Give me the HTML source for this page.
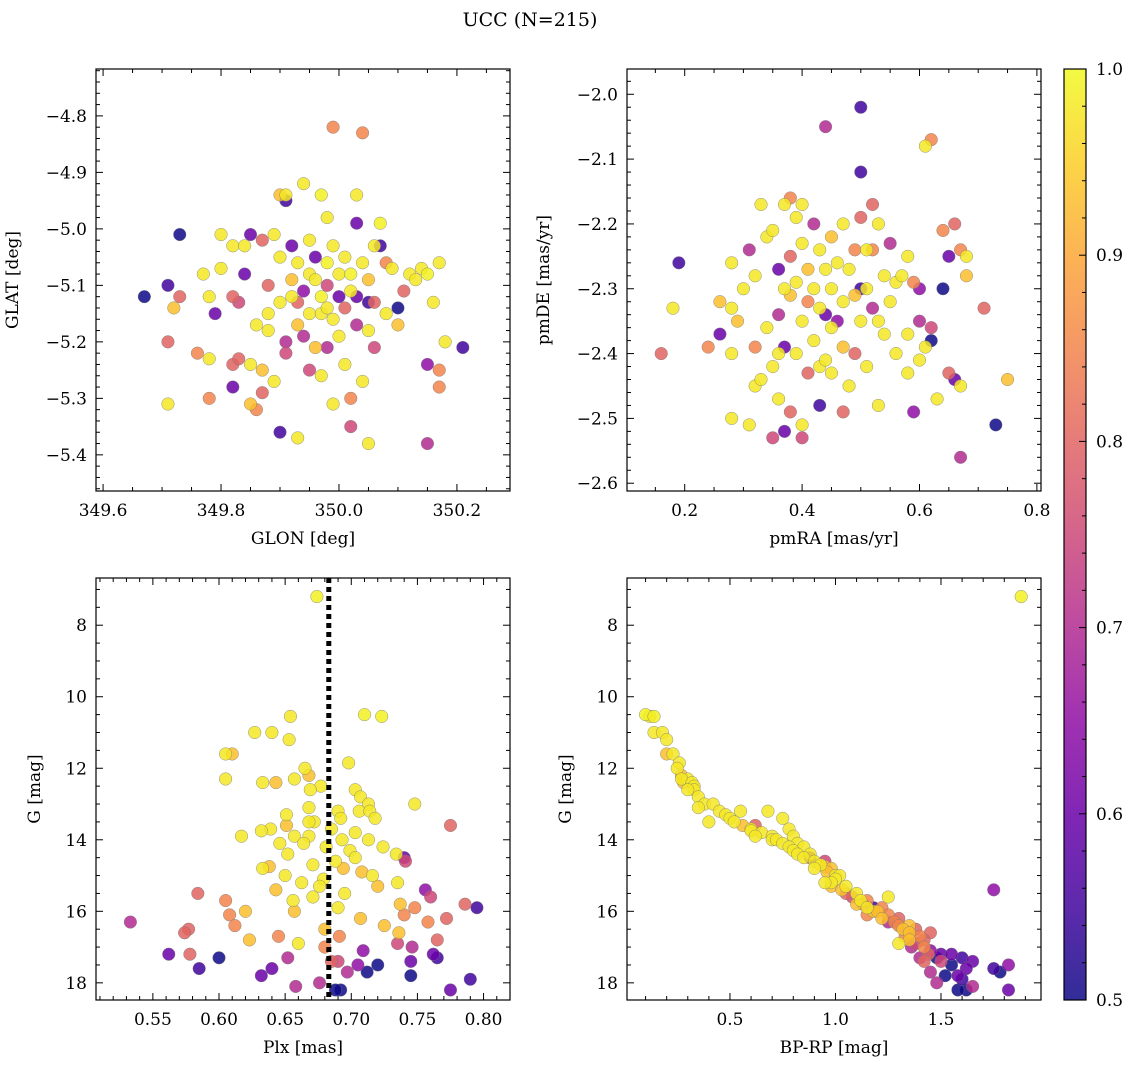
<!DOCTYPE html>
<html><head><meta charset="utf-8"><style>
html,body{margin:0;padding:0;background:#fff;}
svg{display:block;font-family:"DejaVu Serif","Liberation Serif",serif;}
</style></head><body>
<svg id="fig" width="1136" height="1068" viewBox="0 0 1136 1068" xmlns="http://www.w3.org/2000/svg">
<text x="530" y="26" font-size="19" text-anchor="middle">UCC (N=215)</text>
</svg>
<script>
// Panel 1: GLON / GLAT
const glon=[349.67,349.71,349.72,349.73,349.71,349.71,349.73,349.77,349.78,349.79,349.78,349.76,349.78,349.80,349.80,349.82,349.82,349.83,349.82,349.82,349.83,349.84,349.84,349.85,349.85,349.85,349.86,349.86,349.87,349.87,349.87,349.88,349.88,349.89,349.88,349.89,349.90,349.91,349.91,349.90,349.90,349.91,349.91,349.90,349.92,349.92,349.93,349.93,349.93,349.93,349.94,349.94,349.94,349.95,349.95,349.95,349.95,349.96,349.96,349.97,349.97,349.97,349.98,349.98,349.98,349.98,349.99,349.99,349.99,349.99,350.00,350.00,350.00,350.01,350.01,350.01,350.02,350.02,350.02,350.03,350.03,350.03,350.03,350.04,350.04,350.04,350.05,350.05,350.05,350.05,350.06,350.06,350.06,350.07,350.07,350.08,350.08,350.09,350.10,350.10,350.11,350.12,350.13,350.14,350.15,350.15,350.15,350.16,350.17,350.17,350.17,350.18,350.21,349.97,349.96,349.98,349.92,350.02];
const glat=[-5.12,-5.10,-5.14,-5.12,-5.20,-5.31,-5.01,-5.08,-5.12,-5.15,-5.23,-5.22,-5.30,-5.07,-5.01,-5.03,-5.12,-5.13,-5.28,-5.24,-5.23,-5.03,-5.08,-5.01,-5.24,-5.31,-5.32,-5.17,-5.25,-5.29,-5.02,-5.10,-5.18,-5.01,-5.15,-5.27,-4.94,-4.94,-4.95,-5.05,-5.13,-5.20,-5.22,-5.36,-5.03,-5.09,-5.06,-5.13,-5.17,-5.37,-4.92,-5.11,-5.19,-5.02,-5.08,-5.15,-5.25,-5.21,-5.05,-4.94,-5.12,-5.26,-4.98,-5.06,-5.10,-5.21,-4.82,-5.03,-5.16,-5.31,-5.08,-5.19,-5.12,-5.05,-5.14,-5.24,-5.08,-5.30,-5.35,-4.94,-4.99,-5.12,-5.17,-4.83,-5.06,-5.27,-5.09,-5.13,-5.18,-5.38,-5.03,-5.13,-5.21,-4.99,-5.03,-5.06,-5.15,-5.07,-5.17,-5.14,-5.11,-5.08,-5.09,-5.07,-5.08,-5.24,-5.38,-5.13,-5.06,-5.25,-5.28,-5.20,-5.21,-5.15,-5.09,-5.14,-5.12,-5.11];
const prob1=[0.5,0.55,0.93,0.8,0.8,0.98,0.5,0.98,0.98,0.6,0.98,0.85,0.85,0.98,0.98,0.98,0.8,0.75,0.6,0.8,0.8,0.98,0.6,0.6,0.98,0.93,0.85,0.98,0.93,0.8,0.8,0.8,0.98,0.98,0.98,0.98,0.93,0.98,0.55,0.98,0.98,0.7,0.75,0.55,0.6,0.93,0.98,0.8,0.93,0.98,0.98,0.65,0.7,0.98,0.98,0.98,0.75,0.93,0.6,0.99,0.99,0.98,0.98,0.99,0.75,0.7,0.85,0.98,0.98,0.98,0.98,0.98,0.6,0.98,0.8,0.98,0.99,0.85,0.75,0.98,0.6,0.6,0.7,0.85,0.98,0.98,0.93,0.55,0.98,0.98,0.98,0.8,0.75,0.99,0.55,0.85,0.98,0.98,0.93,0.5,0.8,0.98,0.98,0.98,0.99,0.65,0.7,0.98,0.98,0.85,0.85,0.98,0.55,0.98,0.98,0.98,0.98,0.98];
// Panel 2: pmRA / pmDE
const pmra=[0.44,0.50,0.50,0.62,0.61,0.16,0.19,0.18,0.24,0.26,0.26,0.28,0.28,0.28,0.28,0.29,0.30,0.31,0.31,0.32,0.32,0.32,0.33,0.33,0.34,0.34,0.35,0.35,0.35,0.36,0.36,0.36,0.36,0.37,0.37,0.37,0.37,0.38,0.38,0.38,0.38,0.39,0.39,0.39,0.40,0.40,0.40,0.40,0.40,0.41,0.41,0.41,0.42,0.42,0.42,0.43,0.43,0.43,0.43,0.44,0.44,0.44,0.45,0.45,0.45,0.45,0.46,0.46,0.47,0.47,0.47,0.47,0.48,0.48,0.49,0.49,0.49,0.50,0.50,0.50,0.51,0.51,0.51,0.52,0.52,0.52,0.53,0.53,0.53,0.54,0.54,0.55,0.55,0.56,0.56,0.57,0.58,0.58,0.58,0.59,0.59,0.60,0.60,0.60,0.61,0.62,0.62,0.63,0.64,0.64,0.65,0.65,0.66,0.66,0.67,0.67,0.67,0.68,0.68,0.71,0.73,0.75];
const pmde=[-2.05,-2.02,-2.12,-2.07,-2.08,-2.40,-2.26,-2.33,-2.39,-2.32,-2.37,-2.26,-2.33,-2.40,-2.50,-2.35,-2.30,-2.24,-2.51,-2.28,-2.39,-2.45,-2.17,-2.44,-2.22,-2.36,-2.21,-2.42,-2.53,-2.27,-2.34,-2.40,-2.47,-2.17,-2.30,-2.39,-2.52,-2.16,-2.25,-2.31,-2.49,-2.19,-2.29,-2.40,-2.17,-2.23,-2.35,-2.51,-2.53,-2.27,-2.32,-2.43,-2.20,-2.30,-2.38,-2.24,-2.33,-2.42,-2.48,-2.27,-2.34,-2.41,-2.22,-2.30,-2.36,-2.43,-2.26,-2.35,-2.20,-2.32,-2.39,-2.49,-2.27,-2.45,-2.24,-2.31,-2.40,-2.19,-2.30,-2.35,-2.24,-2.30,-2.42,-2.17,-2.24,-2.33,-2.20,-2.35,-2.48,-2.28,-2.37,-2.23,-2.32,-2.29,-2.40,-2.28,-2.25,-2.37,-2.43,-2.29,-2.49,-2.30,-2.35,-2.41,-2.39,-2.36,-2.38,-2.47,-2.21,-2.30,-2.25,-2.43,-2.20,-2.44,-2.56,-2.45,-2.24,-2.25,-2.28,-2.33,-2.51,-2.44];
const prob2=[0.7,0.55,0.55,0.85,0.98,0.8,0.55,0.98,0.85,0.93,0.6,0.98,0.98,0.98,0.98,0.93,0.98,0.7,0.98,0.98,0.85,0.98,0.98,0.98,0.98,0.98,0.98,0.98,0.75,0.6,0.7,0.98,0.98,0.98,0.98,0.6,0.6,0.85,0.8,0.93,0.8,0.98,0.98,0.98,0.98,0.98,0.98,0.98,0.75,0.93,0.85,0.8,0.7,0.98,0.98,0.98,0.98,0.98,0.55,0.98,0.6,0.98,0.93,0.98,0.98,0.98,0.98,0.65,0.98,0.98,0.93,0.8,0.98,0.98,0.85,0.93,0.8,0.8,0.55,0.98,0.98,0.98,0.98,0.8,0.85,0.7,0.98,0.98,0.98,0.98,0.98,0.7,0.98,0.98,0.98,0.98,0.98,0.98,0.98,0.85,0.65,0.65,0.7,0.98,0.98,0.75,0.5,0.98,0.85,0.5,0.6,0.8,0.8,0.6,0.7,0.98,0.85,0.98,0.93,0.8,0.5,0.93];
// Panels 3 & 4: G, Plx, BP-RP
const gmag=[7.2,10.5,10.55,10.55,11.0,11.0,11.2,11.6,11.6,11.85,12.0,12.2,12.3,12.3,12.4,12.4,12.5,12.6,12.6,12.8,13.0,13.0,13.1,13.2,13.2,13.2,13.3,13.4,13.4,13.5,13.5,13.6,13.6,13.7,13.7,13.75,13.8,13.9,13.9,13.9,14.0,14.0,14.1,14.1,14.2,14.2,14.3,14.4,14.4,14.5,14.5,14.6,14.6,14.7,14.75,14.8,14.8,14.9,15.0,15.0,15.1,15.2,15.3,15.3,15.4,15.4,15.5,15.5,15.6,15.6,15.7,15.7,15.8,15.8,15.9,15.9,15.9,16.0,16.0,16.1,16.1,16.2,16.2,16.3,16.3,16.4,16.4,16.5,16.5,16.6,16.6,16.7,16.7,16.8,16.8,16.9,17.0,17.0,17.1,17.2,17.2,17.2,17.3,17.3,17.3,17.4,17.4,17.5,17.5,17.6,17.6,17.7,17.7,17.8,17.8,17.9,18.0,18.1,18.2,18.2,18.2,17.4,16.9,15.2];
const bprp=[1.88,0.10,0.14,0.12,0.14,0.18,0.20,0.20,0.23,0.26,0.25,0.27,0.30,0.27,0.32,0.28,0.33,0.33,0.30,0.35,0.38,0.42,0.35,0.45,0.55,0.68,0.48,0.5,0.75,0.52,0.40,0.56,0.62,0.78,0.60,0.60,0.65,0.62,0.80,0.70,0.70,0.72,0.82,0.75,0.78,0.85,0.80,0.82,0.88,0.88,0.85,0.90,0.95,0.93,0.95,0.90,0.98,0.96,1.00,1.02,1.00,0.98,1.05,0.98,1.03,1.75,1.05,1.10,1.08,1.25,1.12,1.15,1.10,1.13,1.15,1.18,1.22,1.18,1.20,1.15,1.25,1.22,1.30,1.25,1.28,1.30,1.35,1.38,1.32,1.35,1.45,1.40,1.33,1.35,1.42,1.38,1.42,1.36,1.45,1.50,1.44,1.55,1.40,1.60,1.48,1.50,1.65,1.55,1.82,1.62,1.75,1.45,1.78,1.52,1.58,1.60,1.48,1.65,1.62,1.82,1.58,1.42,1.30,0.95];
const plx=[0.674,0.710,0.723,0.654,0.640,0.627,0.653,0.610,0.605,0.698,0.665,0.668,0.605,0.657,0.633,0.643,0.677,0.669,0.703,0.707,0.713,0.748,0.668,0.706,0.714,0.690,0.651,0.692,0.718,0.672,0.668,0.651,0.775,0.639,0.685,0.632,0.703,0.617,0.668,0.657,0.713,0.693,0.646,0.664,0.724,0.681,0.699,0.734,0.652,0.740,0.703,0.688,0.741,0.671,0.638,0.633,0.694,0.708,0.650,0.716,0.679,0.735,0.676,0.720,0.643,0.756,0.584,0.695,0.760,0.671,0.656,0.605,0.737,0.786,0.690,0.795,0.748,0.657,0.620,0.740,0.608,0.707,0.772,0.533,0.758,0.612,0.725,0.577,0.680,0.736,0.574,0.691,0.645,0.623,0.765,0.735,0.680,0.746,0.709,0.562,0.578,0.762,0.652,0.765,0.600,0.690,0.745,0.720,0.705,0.640,0.585,0.697,0.712,0.745,0.632,0.790,0.676,0.658,0.692,0.775,0.688,0.685,0.660,0.6625];
const prob3=[0.99,0.99,0.99,0.98,0.98,0.98,0.98,0.93,0.98,0.98,0.98,0.93,0.98,0.98,0.98,0.93,0.98,0.98,0.98,0.98,0.98,0.98,0.98,0.98,0.98,0.98,0.98,0.98,0.98,0.98,0.98,0.93,0.8,0.98,0.98,0.98,0.98,0.98,0.98,0.98,0.98,0.98,0.98,0.98,0.98,0.98,0.98,0.98,0.98,0.6,0.98,0.98,0.75,0.98,0.93,0.98,0.93,0.93,0.98,0.98,0.98,0.98,0.98,0.93,0.93,0.65,0.8,0.98,0.75,0.98,0.98,0.85,0.93,0.8,0.98,0.55,0.85,0.93,0.93,0.85,0.85,0.93,0.8,0.7,0.85,0.85,0.93,0.8,0.93,0.93,0.8,0.85,0.85,0.93,0.8,0.75,0.85,0.7,0.65,0.6,0.8,0.6,0.7,0.55,0.5,0.75,0.6,0.5,0.65,0.6,0.55,0.7,0.5,0.5,0.6,0.55,0.7,0.7,0.5,0.6,0.5,0.8,0.98,0.98];
const plxLine=0.683;
const cbTicks=[0.5,0.6,0.7,0.8,0.9,1.0];

const NS='http://www.w3.org/2000/svg';
const svg=document.getElementById('fig');
function el(tag,attrs,parent){const e=document.createElementNS(NS,tag);for(const k in attrs)e.setAttribute(k,attrs[k]);(parent||svg).appendChild(e);return e;}
const stops=[[13,8,135],[65,4,157],[106,0,168],[143,13,164],[177,42,144],[204,71,120],[225,100,98],[242,132,75],[252,166,54],[252,206,37],[240,249,33]];
function plasma(t){t=Math.max(0,Math.min(1,t));const f=t*10,i=Math.min(9,Math.floor(f)),r=f-i;const a=stops[i],b=stops[i+1];return 'rgb('+a.map((v,k)=>Math.round(v+(b[k]-v)*r)).join(',')+')';}
function pcol(p){return plasma((p-0.5)/0.5);}

function panel(o){
  const g=el('g',{});
  
  
  const X=v=>o.x0+(v-o.xmin)/(o.xmax-o.xmin)*(o.x1-o.x0);
  const Y=o.yinv?(v=>o.y0+(v-o.ymin)/(o.ymax-o.ymin)*(o.y1-o.y0)):(v=>o.y1-(v-o.ymin)/(o.ymax-o.ymin)*(o.y1-o.y0));
  const clip='c'+o.name;
  const cp=el('clipPath',{id:clip},g);el('rect',{x:o.x0,y:o.y0,width:o.x1-o.x0,height:o.y1-o.y0},cp);
  const pts=el('g',{'clip-path':'url(#'+clip+')'},g);
  const idx=o.xs.map((_,i)=>i).sort((a,b)=>o.ps[a]-o.ps[b]);
  idx.forEach(i=>{
    const c=el('circle',{cx:X(o.xs[i]),cy:Y(o.ys[i]),r:6.3,fill:pcol(o.ps[i]),'fill-opacity':0.85,stroke:'#777','stroke-width':0.4},pts);
    
    
  });
  if(o.vline!==undefined){
    const l=el('line',{x1:X(o.vline),x2:X(o.vline),y1:o.y0,y2:o.y1,stroke:'#000','stroke-width':5,'stroke-dasharray':'5,4'},pts);
    
    
  }
  const tk=el('g',{stroke:'#000','stroke-width':1},g);
  const eps=1e-9;
  for(let v=Math.ceil(o.xmin/o.xminor-eps)*o.xminor;v<=o.xmax+eps;v+=o.xminor){
    const x=X(v);const major=Math.abs(v/o.xmajor-Math.round(v/o.xmajor))<1e-6;const L=major?7:4;
    el('line',{x1:x,x2:x,y1:o.y1,y2:o.y1-L},tk);el('line',{x1:x,x2:x,y1:o.y0,y2:o.y0+L},tk);
    if(major){const t=el('text',{x:x,y:o.y1+25,'font-size':17,'text-anchor':'middle',stroke:'none'},g);t.textContent=o.xfmt(v).replace('-','−');}
  }
  for(let v=Math.ceil(o.ymin/o.yminor-eps)*o.yminor;v<=o.ymax+eps;v+=o.yminor){
    const y=Y(v);const major=Math.abs(v/o.ymajor-Math.round(v/o.ymajor))<1e-6;const L=major?7:4;
    el('line',{x1:o.x0,x2:o.x0+L,y1:y,y2:y},tk);el('line',{x1:o.x1,x2:o.x1-L,y1:y,y2:y},tk);
    if(major){const t=el('text',{x:o.x0-9,y:y+6,'font-size':17,'text-anchor':'end',stroke:'none'},g);t.textContent=o.yfmt(v).replace('-','−');}
  }
  el('rect',{x:o.x0,y:o.y0,width:o.x1-o.x0,height:o.y1-o.y0,fill:'none',stroke:'#000','stroke-width':1.2},g);
  const xl=el('text',{x:(o.x0+o.x1)/2,y:o.y1+53,'font-size':17,'text-anchor':'middle'},g);xl.textContent=o.xlabel;
  
  const yx=o.x0-o.ylabOff,yy=(o.y0+o.y1)/2;
  const yl=el('text',{x:yx,y:yy,'font-size':17,'text-anchor':'middle',transform:'rotate(-90 '+yx+' '+yy+')'},g);yl.textContent=o.ylabel;
  
}
const f1=v=>v.toFixed(1),f2=v=>v.toFixed(2),f0=v=>v.toFixed(0);
panel({name:'glon-glat-panel',x0:96,x1:510,y0:69,y1:491,xmin:349.588,xmax:350.290,ymin:-5.464,ymax:-4.717,xmajor:0.2,xminor:0.05,ymajor:0.1,yminor:0.02,xs:glon,ys:glat,ps:prob1,xfmt:f1,yfmt:f1,xlabel:'GLON [deg]',ylabel:'GLAT [deg]',ylabOff:78});
panel({name:'pm-panel',x0:627,x1:1041,y0:69,y1:491,xmin:0.1017,xmax:0.807,ymin:-2.612,ymax:-1.961,xmajor:0.2,xminor:0.05,ymajor:0.1,yminor:0.02,xs:pmra,ys:pmde,ps:prob2,xfmt:f1,yfmt:f1,xlabel:'pmRA [mas/yr]',ylabel:'pmDE [mas/yr]',ylabOff:78});
panel({name:'plx-g-panel',x0:96,x1:510,y0:578,y1:1000,xmin:0.507,xmax:0.820,ymin:6.68,ymax:18.48,yinv:true,xmajor:0.05,xminor:0.01,ymajor:2,yminor:0.5,xs:plx,ys:gmag,ps:prob3,vline:plxLine,xfmt:f2,yfmt:f0,xlabel:'Plx [mas]',ylabel:'G [mag]',ylabOff:56});
panel({name:'cmd-panel',x0:627,x1:1041,y0:578,y1:1000,xmin:0.012,xmax:1.974,ymin:6.68,ymax:18.48,yinv:true,xmajor:0.5,xminor:0.1,ymajor:2,yminor:0.5,xs:bprp,ys:gmag,ps:prob3,xfmt:f1,yfmt:f0,xlabel:'BP-RP [mag]',ylabel:'G [mag]',ylabOff:56});

const cb=el('g',{});


const defs=el('defs',{},cb);
const lg=el('linearGradient',{id:'cbg',x1:0,y1:1,x2:0,y2:0},defs);
for(let i=0;i<=20;i++){el('stop',{offset:(i/20),'stop-color':plasma(i/20),'stop-opacity':0.85},lg);}
el('rect',{x:1064,y:69,width:22,height:931,fill:'url(#cbg)'},cb);
const CY=v=>1000-(v-0.5)/0.5*931;
for(let v=0.5;v<=1.0001;v+=0.02){
  const major=Math.abs(v*10-Math.round(v*10))<1e-6;
  el('line',{x1:1086,x2:1086-(major?7:4),y1:CY(v),y2:CY(v),stroke:'#000','stroke-width':1},cb);
}
cbTicks.forEach(v=>{const t=el('text',{x:1096,y:CY(v)+6,'font-size':17},cb);t.textContent=v.toFixed(1);
});
el('rect',{x:1064,y:69,width:22,height:931,fill:'none',stroke:'#000','stroke-width':1.2},cb);
</script>
</body></html>
